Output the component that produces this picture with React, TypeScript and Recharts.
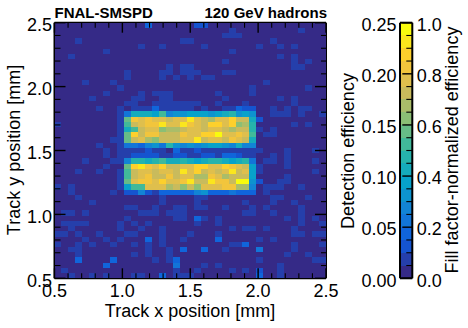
import React from "react";
import { ScatterChart, Scatter, XAxis, YAxis, BarChart, Bar } from "recharts";

const FONT = "'Liberation Sans', Arial, sans-serif";
const COL_COUNT = 39;
const ROW_COUNT = 49;
const X_RANGE = [0.5, 2.5];
const Y_RANGE = [0.5, 2.5];
const LEVEL_WIDTH = 0.0125;
const PALETTE = [
  "#352a87", "#253fab", "#1554d0", "#1065db", "#1275d8", "#1284d5", "#0d93cf", "#07a2ca", "#15abbc", "#26b3ac",
  "#41b99a", "#66bc87", "#8bbf75", "#aabd69", "#c9bb5c", "#dfbf4d", "#f2c53c", "#fdd02c", "#fbe61d", "#f9fb0e",
];

const AXIS_TICKS = [0.5, 0.6, 0.7, 0.8, 0.9, 1.0, 1.1, 1.2, 1.3, 1.4, 1.5, 1.6, 1.7, 1.8, 1.9, 2.0, 2.1, 2.2, 2.3, 2.4, 2.5];
const BAR_LEFT_TICKS = [0, 0.05, 0.1, 0.15, 0.2, 0.25];
const BAR_RIGHT_TICKS = [0, 0.05, 0.1, 0.15, 0.2, 0.25, 0.3, 0.35, 0.4, 0.45, 0.5, 0.55, 0.6, 0.65, 0.7, 0.75, 0.8, 0.85, 0.9, 0.95, 1.0];

// Levels of the active strips, columns 10 to 28.
const STRIP_START = 10;
const stripRow17 = [4, 8, 8, 8, 7, 10, 5, 6, 6, 7, 7, 7, 6, 7, 8, 9, 6, 7, 6];
const stripRow18 = [11, 16, 15, 16, 15, 15, 14, 15, 15, 18, 15, 14, 13, 15, 15, 17, 14, 14, 8];
const stripRow19 = [10, 14, 15, 16, 16, 18, 15, 15, 18, 16, 15, 14, 17, 17, 15, 17, 12, 13, 9];
const stripRow20 = [8, 10, 14, 15, 15, 12, 13, 13, 14, 15, 15, 14, 15, 15, 14, 13, 14, 14, 9];
const stripRow21 = [11, 17, 14, 16, 16, 14, 14, 14, 16, 15, 15, 17, 17, 19, 15, 15, 16, 15, 10];
const stripRow22 = [11, 14, 15, 13, 12, 14, 14, 14, 15, 15, 18, 14, 15, 15, 14, 16, 15, 14, 8];
const stripRow23 = [4, 4, 3, 5, 6, 4, 9, 6, 5, 6, 5, 6, 7, 7, 6, 5, 8, 5, 5];
const stripRow26 = [5, 9, 9, 8, 9, 10, 8, 8, 9, 8, 7, 8, 9, 9, 8, 7, 8, 9, 4];
const stripRow27 = [11, 17, 18, 16, 15, 17, 14, 14, 15, 15, 17, 17, 15, 15, 17, 16, 15, 14, 7];
const stripRow28 = [10, 14, 15, 15, 14, 15, 15, 14, 18, 15, 17, 14, 15, 14, 15, 18, 14, 15, 7];
const stripRow29 = [10, 14, 15, 16, 14, 14, 16, 14, 15, 15, 13, 13, 16, 15, 13, 14, 14, 14, 7];
const stripRow30 = [11, 15, 16, 16, 15, 17, 15, 15, 16, 18, 14, 14, 18, 16, 16, 14, 19, 19, 6];
const stripRow31 = [7, 10, 10, 15, 15, 15, 13, 14, 12, 14, 12, 15, 15, 15, 16, 16, 13, 13, 5];
const stripRow32 = [2, 2, 5, 2, 1, 3, 3, 3, 3, 3, 5, 6, 3, 3, 3, 4, 3, 3, 3];
const stripRows: Record<number, number[]> = {
  17: stripRow17, 18: stripRow18, 19: stripRow19, 20: stripRow20, 21: stripRow21, 22: stripRow22, 23: stripRow23,
  26: stripRow26, 27: stripRow27, 28: stripRow28, 29: stripRow29, 30: stripRow30, 31: stripRow31, 32: stripRow32,
};

// Columns holding a single faint level, by row.
const faintBins: Record<number, number[]> = {
  1: [25, 35], 2: [24, 25, 26], 3: [3, 18, 19, 31], 4: [12, 15, 21, 29, 32, 34], 5: [7, 25], 6: [2, 32, 34],
  7: [24, 34, 36], 8: [16, 18, 19, 34, 35], 9: [10, 15, 16, 18, 19, 20, 24, 25], 10: [10, 15, 17, 19, 21, 22],
  11: [4, 8, 30], 12: [9, 28, 36], 13: [7, 12, 14, 15, 16, 23, 28], 14: [5, 11, 12, 15, 16, 24, 32, 34],
  15: [10, 11, 14, 15, 16, 17, 18, 19, 20, 23, 27, 34],
  16: [6, 9, 11, 12, 13, 15, 16, 17, 18, 19, 21, 24, 25, 31, 33, 35, 36],
  17: [9, 31, 32, 33, 35, 38], 18: [9], 19: [0, 9, 34, 36], 20: [9, 29, 31], 21: [9, 30, 31], 22: [8, 9],
  23: [6, 9], 24: [7, 9, 10, 11, 12, 14, 15, 18, 19, 21, 22, 23, 24, 25, 26, 27, 28, 29, 33, 37],
  25: [7, 9, 10, 15, 16, 19, 20, 23, 27, 28, 31, 33], 26: [4, 8, 9, 30, 31, 33, 37], 27: [7, 29, 33],
  28: [3, 6, 9, 29, 37], 29: [9, 33], 30: [9, 32, 33], 31: [0, 2, 9, 30, 31, 32, 35], 32: [2, 8, 30],
  33: [3, 15, 20, 21, 31, 32, 36], 34: [5, 15, 20, 27, 31, 34], 35: [10, 11, 14, 17, 18, 20, 21, 24, 28, 30, 35],
  36: [1, 2, 4, 12, 13, 14, 16, 17, 18, 27, 28, 31, 35], 37: [10, 17, 18, 21, 23, 33, 35, 37],
  38: [1, 2, 3, 4, 9, 11, 13, 20, 23, 35, 38], 39: [2, 9, 12, 15, 25, 27, 28, 30, 34],
  40: [0, 1, 3, 6, 10, 11, 15, 19, 23, 34, 35, 37, 38], 41: [4, 7, 9, 15, 18, 29, 31],
  42: [0, 3, 5, 8, 11, 13, 15, 25, 26, 34, 38], 43: [2, 3, 13, 16, 24, 34], 44: [3, 11, 13, 16, 33, 36],
  45: [14, 16, 29, 37, 38], 46: [21, 23, 32], 47: [1, 17, 20, 25, 27, 32], 48: [2, 5, 7, 11, 12, 17, 18, 19, 32],
};

// Stronger isolated bins outside the strips: [row, column, level].
const strongBins = [
  [0, 13, 3], [0, 20, 2], [0, 21, 2], [16, 14, 3], [16, 26, 3], [16, 27, 2], [16, 28, 2], [18, 29, 2],
  [24, 13, 2], [24, 17, 3], [24, 20, 2], [25, 11, 2], [25, 12, 2], [25, 13, 2], [25, 14, 2], [25, 17, 2], [25, 18, 2],
  [25, 21, 2], [25, 22, 2], [25, 24, 3], [25, 25, 3], [25, 26, 2], [30, 29, 2], [37, 20, 3], [41, 13, 3], [41, 23, 3],
  [42, 27, 3], [43, 18, 3], [43, 21, 3], [43, 29, 4], [45, 3, 3], [45, 8, 3], [45, 17, 3], [46, 7, 3], [46, 17, 4],
  [47, 29, 2], [48, 15, 3], [48, 29, 3],
];

function buildLevels(): number[][] {
  const grid: number[][] = [];
  for (let r = 0; r < ROW_COUNT; r++) grid.push(new Array(COL_COUNT).fill(0));
  for (const key of Object.keys(faintBins)) for (const c of faintBins[+key]) grid[+key][c] = 1;
  for (const [r, c, l] of strongBins) grid[r][c] = l;
  for (const key of Object.keys(stripRows)) stripRows[+key].forEach((l, i) => { grid[+key][STRIP_START + i] = l; });
  return grid;
}

const cells = buildLevels().flatMap((row, r) =>
  row.map((level, c) => ({
    x: X_RANGE[0] + ((c + 0.5) * (X_RANGE[1] - X_RANGE[0])) / COL_COUNT,
    y: Y_RANGE[1] - ((r + 0.5) * (Y_RANGE[1] - Y_RANGE[0])) / ROW_COUNT,
    eff: (level + 0.5) * LEVEL_WIDTH,
  }))
);

const W = 468;
const H = 328;
const PLOT = { left: 54.5, right: 326, top: 22.7, bottom: 278.3 };
const CELL_W = (PLOT.right - PLOT.left) / COL_COUNT;
const CELL_H = (PLOT.bottom - PLOT.top) / ROW_COUNT;

const HeatCell = (props: any) => (
  <rect
    x={props.cx - CELL_W / 2}
    y={props.cy - CELL_H / 2}
    width={CELL_W}
    height={CELL_H}
    fill={PALETTE[Math.min(PALETTE.length - 1, Math.floor(props.eff / LEVEL_WIDTH))]}
    shapeRendering="crispEdges"
  />
);

type Side = "bottom" | "top" | "left" | "right";
const isMajor = (v: number, step: number) => Math.abs(v / step - Math.round(v / step)) < 1e-6;

function makeTick(side: Side, step: number, majorLen: number, minorLen: number, labelled: boolean) {
  return (props: any) => {
    const { x, y, payload } = props;
    const major = isMajor(payload.value, step);
    const len = major ? majorLen : minorLen;
    const dx = side === "left" ? len : side === "right" ? -len : 0;
    const dy = side === "bottom" ? -len : side === "top" ? len : 0;
    return (
      <g>
        <line x1={x} y1={y} x2={x + dx} y2={y + dy} stroke="#000" strokeWidth={major ? 1.4 : 1.1} />
        {labelled && major ? (
          <text
            x={side === "left" ? x - 2.5 : x}
            y={side === "bottom" ? y + 19 : y + 8.3}
            textAnchor={side === "left" ? "end" : "middle"}
            fontFamily={FONT}
            fontSize={18}
            fill="#000"
          >
            {payload.value.toFixed(1)}
          </text>
        ) : null}
      </g>
    );
  };
}

const BarLeftLabel = (props: any) => (
  <text x={props.x - 3.5} y={props.y + 8.3} textAnchor="end" fontFamily={FONT} fontSize={18} fill="#000">
    {props.payload.value.toFixed(2)}
  </text>
);

const BarRightTick = (props: any) => {
  const { x, y, payload } = props;
  const major = isMajor(payload.value, 0.2);
  return (
    <g>
      <line x1={x} y1={y} x2={x - (major ? 10 : 6)} y2={y} stroke="#000" strokeWidth={major ? 1.4 : 1.1} />
      {major ? (
        <text x={x + 4.5} y={y + 8.3} textAnchor="start" fontFamily={FONT} fontSize={18} fill="#000">
          {payload.value.toFixed(1)}
        </text>
      ) : null}
    </g>
  );
};

const frame = { stroke: "#000", strokeWidth: 2 };
const levelKeys = PALETTE.map((_, i) => `level${i}`);
const barRow = [Object.fromEntries([["name", "scale"], ...levelKeys.map((k) => [k, LEVEL_WIDTH])])];

const abs: React.CSSProperties = { position: "absolute", left: 0, top: 0 };

export default function App() {
  return (
    <div style={{ ...abs, width: W, height: H, background: "#fff" }}>
      <div style={abs}>
        <ScatterChart
          width={W}
          height={H}
          margin={{ left: PLOT.left - 50, right: W - PLOT.right - 10, top: PLOT.top - 10, bottom: H - PLOT.bottom - 30 }}
        >
          <Scatter data={cells} dataKey="y" shape={HeatCell} isAnimationActive={false} />
          <XAxis type="number" dataKey="x" domain={X_RANGE} ticks={AXIS_TICKS} interval={0} height={30} tickSize={0} tickMargin={0} allowDataOverflow axisLine={frame} tickLine={false} tick={makeTick("bottom", 0.5, 10, 5, true)} />
          <XAxis xAxisId="top" orientation="top" type="number" dataKey="x" domain={X_RANGE} ticks={AXIS_TICKS} interval={0} height={10} tickSize={0} tickMargin={0} allowDataOverflow axisLine={frame} tickLine={false} tick={makeTick("top", 0.5, 10, 5, false)} />
          <YAxis type="number" dataKey="y" domain={Y_RANGE} ticks={AXIS_TICKS} interval={0} width={50} tickSize={0} tickMargin={0} allowDataOverflow axisLine={frame} tickLine={false} tick={makeTick("left", 0.5, 11, 6, true)} />
          <YAxis yAxisId="right" orientation="right" type="number" dataKey="y" domain={Y_RANGE} ticks={AXIS_TICKS} interval={0} width={10} tickSize={0} tickMargin={0} allowDataOverflow axisLine={frame} tickLine={false} tick={makeTick("right", 0.5, 11, 5, false)} />
        </ScatterChart>
      </div>
      <div style={abs}>
        <BarChart
          width={W}
          height={H}
          data={barRow}
          barCategoryGap={0}
          margin={{ left: 360, right: W - 412.3 - 40, top: PLOT.top - 1, bottom: H - PLOT.bottom - 1 }}
        >
          {levelKeys.map((k, i) => (
            <Bar key={k} dataKey={k} stackId="scale" fill={PALETTE[i]} yAxisId="left" isAnimationActive={false} shapeRendering="crispEdges" />
          ))}
          <XAxis dataKey="name" height={1} tick={false} tickLine={false} axisLine={frame} />
          <XAxis xAxisId="top" orientation="top" dataKey="name" height={1} tick={false} tickLine={false} axisLine={frame} />
          <YAxis yAxisId="left" type="number" domain={[0, 0.25]} ticks={BAR_LEFT_TICKS} interval={0} width={40} tickSize={0} tickMargin={0} allowDataOverflow axisLine={frame} tickLine={false} tick={BarLeftLabel} />
          <YAxis yAxisId="right" orientation="right" type="number" domain={[0, 1]} ticks={BAR_RIGHT_TICKS} interval={0} width={40} tickSize={0} tickMargin={0} allowDataOverflow axisLine={frame} tickLine={false} tick={BarRightTick} />
        </BarChart>
      </div>
      <svg width={W} height={H} style={{ ...abs, pointerEvents: "none" }} fontFamily={FONT} fill="#000">
        <text x={54.5} y={17.5} fontSize={15} fontWeight="bold">FNAL-SMSPD</text>
        <text x={327} y={17.5} fontSize={15} fontWeight="bold" textAnchor="end">120 GeV hadrons</text>
        <text x={190} y={317} fontSize={18} textAnchor="middle">Track x position [mm]</text>
        <text transform="translate(20,150) rotate(-90)" fontSize={18} textAnchor="middle">Track y position [mm]</text>
        <text transform="translate(354,151) rotate(-90)" fontSize={18} textAnchor="middle">Detection efficiency</text>
        <text transform="translate(458,150) rotate(-90)" fontSize={18} textAnchor="middle">Fill factor-normalized efficiency</text>
      </svg>
    </div>
  );
}
